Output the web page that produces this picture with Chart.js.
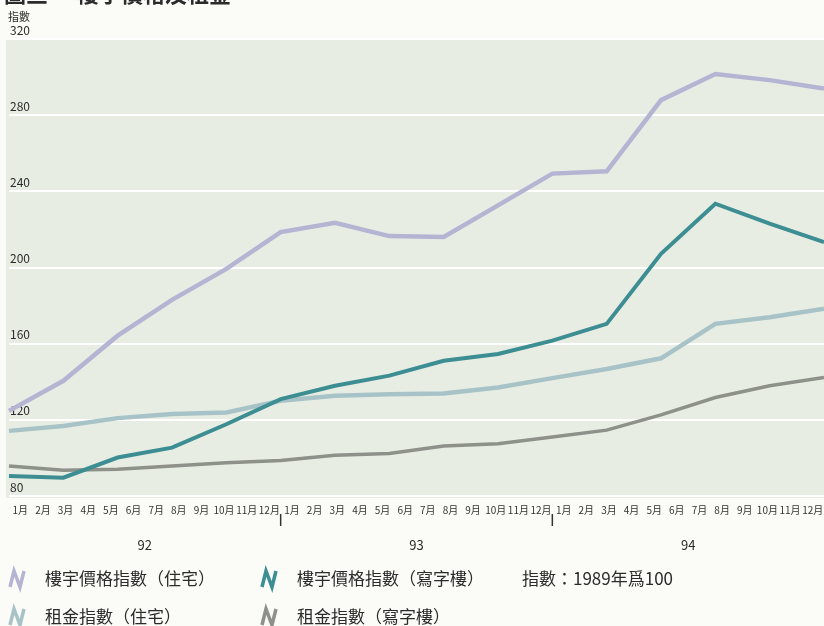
<!DOCTYPE html>
<html>
<head>
<meta charset="utf-8">
<script src="https://cdn.jsdelivr.net/npm/chart.js@4/dist/chart.umd.min.js"></script>
<style>
	body { margin: 0; background: #fbfbf7; }
	canvas { display: block; }
</style>
</head>
<body>
<canvas id="chart" width="824" height="626"></canvas>
<script>
// index values, 1989 = 100
const residentialPrice = [124.7, 140.5, 164.2, 183, 199.3, 218.6, 223.5, 216.5, 216, 232.6, 249.3, 250.5, 287.9, 301.6, 298.4, 294];
const officePrice = [90.5, 89.6, 100.2, 105.4, 117.7, 130.9, 137.9, 143.2, 151, 154.6, 161.6, 170.4, 207.2, 233.5, 223, 213.3];
const residentialRent = [114.2, 116.8, 120.9, 123, 123.9, 130, 132.6, 133.5, 133.8, 137, 141.9, 146.7, 152.3, 170.4, 173.9, 178.3];
const officeRent = [95.8, 93.5, 94, 95.8, 97.5, 98.7, 101.4, 102.3, 106.3, 107.5, 111, 114.6, 122.6, 131.7, 137.9, 142.3];

const monthNames = ['1月', '2月', '3月', '4月', '5月', '6月', '7月', '8月', '9月', '10月', '11月', '12月'];
const years = ['92', '93', '94'];
const monthLabels = years.flatMap(() => monthNames);
const yTicks = [80, 120, 160, 200, 240, 280, 320];

const seriesNames = ['樓宇價格指數（住宅）', '樓宇價格指數（寫字樓）', '租金指數（住宅）', '租金指數（寫字樓）'];
const colors = ['#b3b5d3', '#3d8e93', '#a8c3c7', '#8d9189'];

const FONT = '"Noto Sans CJK TC", "Noto Sans", sans-serif';
const TEXT_COLOR = '#2b2b2b';

function drawIcon(ctx, x, y, color) {
	ctx.beginPath();
	ctx.moveTo(x, y + 8);
	ctx.lineTo(x + 4, y - 8);
	ctx.lineTo(x + 10, y + 8);
	ctx.lineTo(x + 14, y - 8);
	ctx.strokeStyle = color;
	ctx.lineWidth = 3.5;
	ctx.lineJoin = 'miter';
	ctx.stroke();
}

const decorations = {
	id: 'decorations',
	beforeDraw(chart) {
		const { ctx, chartArea: area } = chart;
		ctx.save();
		ctx.fillStyle = '#fbfbf7';
		ctx.fillRect(0, 0, chart.width, chart.height);
		ctx.fillStyle = '#e8ede4';
		ctx.fillRect(area.left - 3, area.top + 1, area.right - area.left + 3, area.bottom - area.top + 1);
		ctx.restore();
	},
	afterDraw(chart) {
		const { ctx } = chart;
		const months = chart.scales.months;
		ctx.save();
		ctx.fillStyle = TEXT_COLOR;

		// title, mostly cut off by the page top
		ctx.font = `bold 22px ${FONT}`;
		ctx.textBaseline = 'alphabetic';
		ctx.fillText('圖三', 4, 2);
		ctx.fillText('樓宇價格及租金', 77, 2);

		ctx.font = `11px ${FONT}`;
		ctx.fillText('指數', 8, 21);

		// year separators and year labels
		ctx.strokeStyle = '#333';
		ctx.lineWidth = 1.5;
		for (let i = 1; i < years.length; i++) {
			const x = (months.getPixelForTick(i * 12 - 1) + months.getPixelForTick(i * 12)) / 2;
			ctx.beginPath();
			ctx.moveTo(x, 514);
			ctx.lineTo(x, 526);
			ctx.stroke();
		}
		ctx.font = `13px ${FONT}`;
		ctx.textAlign = 'center';
		ctx.textBaseline = 'middle';
		years.forEach((year, i) => {
			const x = (months.getPixelForTick(i * 12 + 5) + months.getPixelForTick(i * 12 + 6)) / 2;
			ctx.fillText(year, x, 545);
		});

		// legend
		const legendSlots = [[10, 579], [262, 579], [10, 617], [262, 617]];
		ctx.font = `17px ${FONT}`;
		ctx.textAlign = 'left';
		seriesNames.forEach((name, i) => {
			const [x, y] = legendSlots[i];
			drawIcon(ctx, x, y, colors[i]);
			ctx.fillStyle = TEXT_COLOR;
			ctx.fillText(name, x + 35, y);
		});
		ctx.fillText('指數：1989年爲100', 522, 579);
		ctx.restore();
	},
};

const seriesData = [residentialPrice, officePrice, residentialRent, officeRent];

new Chart(document.getElementById('chart'), {
	type: 'line',
	data: {
		labels: residentialPrice.map((_, i) => i),
		datasets: seriesData.map((values, i) => ({
			label: seriesNames[i],
			data: values,
			borderColor: colors[i],
			borderWidth: [4.5, 4, 4.5, 3.5][i],
			pointRadius: 0,
			tension: 0,
			borderJoinStyle: 'miter',
			order: [3, 0, 2, 1][i],
		})),
	},
	options: {
		responsive: false,
		animation: false,
		layout: { padding: { left: 7, right: 0, top: 39, bottom: 110 } },
		plugins: {
			legend: { display: false },
			tooltip: { enabled: false },
		},
		scales: {
			x: { display: false },
			months: {
				type: 'category',
				labels: monthLabels,
				position: 'bottom',
				offset: true,
				// invisible tick marks give the gap under the plot without adding side padding
				grid: { display: true, drawOnChartArea: false, drawTicks: true, tickLength: 8, color: 'rgba(0,0,0,0)' },
				border: { display: false },
				ticks: {
					autoSkip: false,
					maxRotation: 0,
					padding: 0,
					color: '#333',
					font: { family: FONT, size: 10 },
				},
			},
			y: {
				min: 80,
				max: 320,
				afterBuildTicks: (scale) => {
					scale.ticks = yTicks.map((value) => ({ value }));
				},
				grid: { color: '#ffffff', lineWidth: 2, drawTicks: false },
				border: { display: false },
				ticks: {
					mirror: true,
					padding: 1,
					labelOffset: -9,
					color: TEXT_COLOR,
					font: { family: FONT, size: 12 },
				},
			},
		},
	},
	plugins: [decorations],
});
</script>
</body>
</html>
